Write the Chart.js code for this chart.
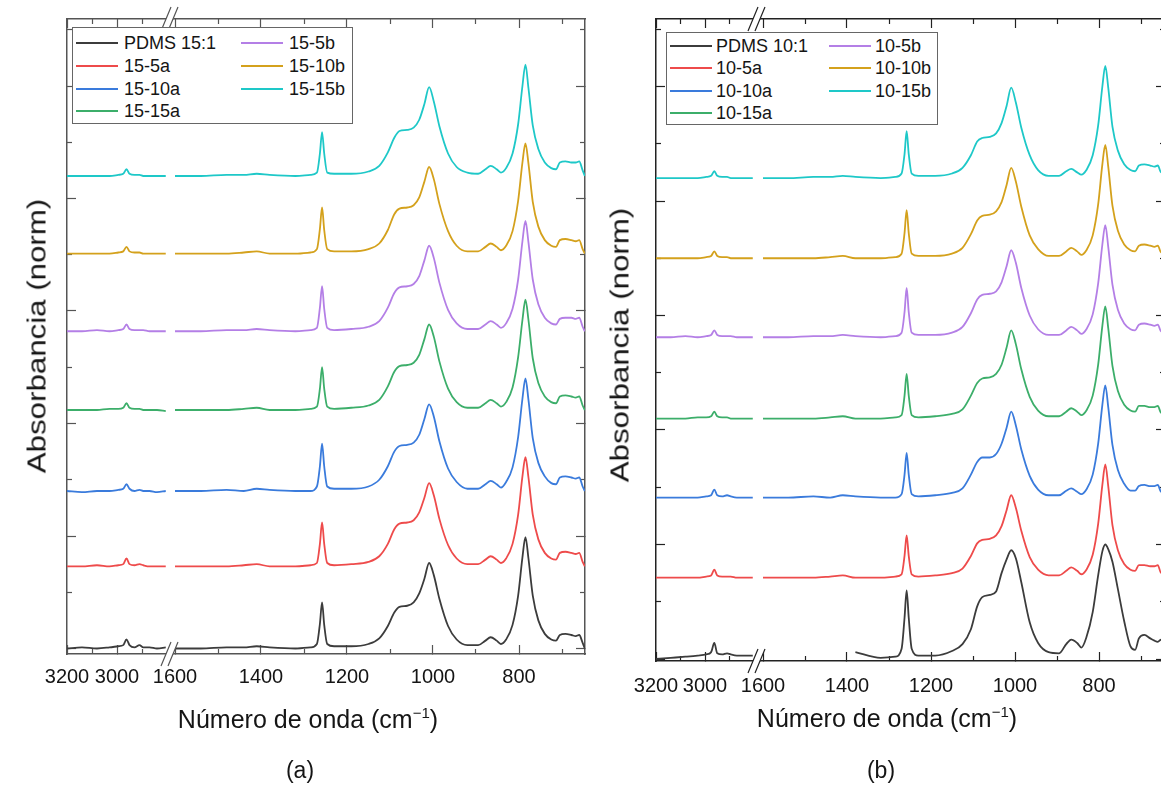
<!DOCTYPE html>
<html>
<head>
<meta charset="utf-8">
<script src="https://cdn.jsdelivr.net/npm/chart.js@4.4.0/dist/chart.umd.min.js"></script>
<style>
  html, body { margin: 0; padding: 0; background: #fff; overflow: hidden; }
  body { width: 1161px; height: 791px; position: relative; font-family: "Liberation Sans", Arial, sans-serif; color: #151515; }
  canvas { position: absolute; top: 0; }
  #chartA { left: 0; }
  #chartB { left: 592px; }
  .legend { position: absolute; box-sizing: border-box; border: 1px solid #666; background: #fff; font-size: 18px; }
  .legend .item { position: absolute; height: 20px; line-height: 20px; white-space: nowrap; }
  .legend .swatch { position: absolute; left: 0; top: 9px; width: 42px; height: 2px; }
  .legend .label { position: absolute; top: 0; }
  .ytitle, .xtitle, .caption { position: absolute; white-space: nowrap; line-height: 1; transform: translate(-50%, -50%); }
  .ytitle { font-size: 25px; transform: translate(-50%, -50%) rotate(-90deg) scaleX(1.25); }
  .xtitle { font-size: 25px; }
  .xtitle sup { font-size: 15px; vertical-align: 0; position: relative; top: -10px; }
  .caption { font-size: 23px; }
</style>
</head>
<body>
<canvas id="chartA" width="592" height="791"></canvas>
<canvas id="chartB" width="593" height="791"></canvas>

<div class="ytitle" style="left:37px;top:336px">Absorbancia (norm)</div>
<div class="ytitle" style="left:620px;top:345px">Absorbancia (norm)</div>
<div class="xtitle" style="left:308px;top:719px">Número de onda (cm<sup>−1</sup>)</div>
<div class="xtitle" style="left:887px;top:718px">Número de onda (cm<sup>−1</sup>)</div>
<div class="caption" style="left:300px;top:770px">(a)</div>
<div class="caption" style="left:881px;top:770px">(b)</div>

<script>
"use strict";

// wavenumbers (cm-1) of the two axis segments
const HIGH_WN = [3200, 3140, 3080, 3030, 2995, 2975, 2962, 2950, 2930, 2910, 2895, 2870, 2840, 2805];
const LOW_WN = [1600, 1540, 1480, 1440, 1410, 1380, 1320, 1285, 1270, 1263,
                1258, 1253, 1246, 1230, 1190, 1150, 1125, 1105, 1090, 1078,
                1060, 1045, 1032, 1020, 1009, 998, 985, 965, 945, 920,
                895, 878, 866, 852, 842, 830, 815, 802, 792, 785,
                778, 768, 755, 740, 725, 714, 705, 692, 678, 668,
                660, 652, 647];

const MAJOR_WN = [3200, 3000, 1600, 1400, 1200, 1000, 800];
const MINOR_WN = [3100, 2900, 1500, 1300, 1100, 900, 700];
const Y_MAJOR = [0, 1, 2, 3, 4, 5];
const Y_MINOR = [0.5, 1.5, 2.5, 3.5, 4.5, 5.5];

const COLORS = ["#3c3c3c", "#ee4b4b", "#3a7bdc", "#3cae6a", "#b47fe6", "#d4a11c", "#1ec8c8"];
const LABELS_A = ["PDMS 15:1", "15-5a", "15-10a", "15-15a", "15-5b", "15-10b", "15-15b"];
const LABELS_B = ["PDMS 10:1", "10-5a", "10-10a", "10-15a", "10-5b", "10-10b", "10-15b"];

// vertical offsets of the stacked spectra
const OFFSETS_A = [0, 0.73, 1.40, 2.12, 2.82, 3.51, 4.20];
const OFFSETS_B = [0.01, 0.71, 1.41, 2.10, 2.81, 3.50, 4.20];

// (a) normalized absorbance
const PDMS15_HI = [0.00, 0.01, 0.00, 0.01, 0.02, 0.03, 0.08, 0.03, 0.01, 0.03, 0.01, 0.01, 0.00, 0.01];
const A15_5A_HI = [0.00, 0.00, 0.01, 0.00, 0.01, 0.02, 0.07, 0.02, 0.01, 0.02, 0.01, 0.00, 0.00, 0.00];
const A15_10A_HI = [0.00, -0.01, 0.00, 0.00, 0.01, 0.02, 0.06, 0.02, 0.00, 0.01, 0.00, 0.00, -0.01, 0.00];
const A15_15A_HI = [0.00, 0.00, 0.00, 0.01, 0.01, 0.02, 0.06, 0.02, 0.01, 0.01, 0.00, 0.00, 0.00, -0.01];
const A15_5B_HI = [0.00, 0.00, 0.01, 0.00, 0.01, 0.02, 0.06, 0.02, 0.01, 0.01, 0.01, 0.00, 0.00, 0.00];
const A15_10B_HI = [0.00, 0.00, 0.00, 0.00, 0.01, 0.02, 0.06, 0.02, 0.01, 0.01, 0.00, 0.00, 0.00, 0.00];
const A15_15B_HI = [0.00, 0.00, 0.00, 0.00, 0.01, 0.02, 0.06, 0.02, 0.01, 0.01, 0.00, 0.00, 0.00, 0.00];

const PDMS15_LO = [0.00, 0.00, 0.01, 0.01, 0.02, 0.01, 0.00, 0.01, 0.04, 0.22,
                   0.41, 0.21, 0.04, 0.02, 0.02, 0.04, 0.09, 0.20, 0.32, 0.37,
                   0.38, 0.41, 0.49, 0.62, 0.76, 0.65, 0.44, 0.20, 0.08, 0.03,
                   0.03, 0.07, 0.10, 0.07, 0.04, 0.08, 0.21, 0.47, 0.81, 0.99,
                   0.80, 0.47, 0.25, 0.13, 0.08, 0.07, 0.12, 0.13, 0.12, 0.11,
                   0.12, 0.05, 0.00];
const A15_5A_LO = [0.00, 0.00, 0.00, 0.01, 0.02, 0.00, 0.00, 0.01, 0.03, 0.20,
                   0.39, 0.20, 0.03, 0.01, 0.02, 0.04, 0.09, 0.20, 0.33, 0.38,
                   0.39, 0.41, 0.48, 0.61, 0.74, 0.63, 0.42, 0.19, 0.07, 0.02,
                   0.02, 0.06, 0.09, 0.06, 0.03, 0.07, 0.20, 0.46, 0.80, 0.97,
                   0.79, 0.46, 0.24, 0.12, 0.07, 0.06, 0.12, 0.13, 0.12, 0.11,
                   0.12, 0.04, 0.00];
const A15_10A_LO = [0.00, 0.00, 0.01, 0.00, 0.02, 0.01, 0.00, 0.00, 0.04, 0.22,
                    0.42, 0.22, 0.04, 0.02, 0.02, 0.04, 0.10, 0.22, 0.35, 0.40,
                    0.41, 0.43, 0.50, 0.64, 0.77, 0.66, 0.44, 0.20, 0.08, 0.02,
                    0.02, 0.06, 0.09, 0.06, 0.03, 0.08, 0.21, 0.48, 0.82, 1.00,
                    0.81, 0.47, 0.25, 0.13, 0.07, 0.06, 0.12, 0.13, 0.12, 0.11,
                    0.12, 0.04, 0.00];
const A15_15A_LO = [0.00, 0.00, 0.00, 0.01, 0.02, 0.00, 0.00, 0.01, 0.03, 0.19,
                    0.38, 0.19, 0.03, 0.01, 0.02, 0.04, 0.09, 0.21, 0.34, 0.39,
                    0.40, 0.42, 0.49, 0.63, 0.76, 0.65, 0.43, 0.19, 0.07, 0.02,
                    0.02, 0.06, 0.09, 0.06, 0.03, 0.07, 0.20, 0.47, 0.80, 0.98,
                    0.80, 0.46, 0.24, 0.12, 0.07, 0.06, 0.12, 0.13, 0.12, 0.11,
                    0.12, 0.04, 0.00];
const A15_5B_LO = [0.00, 0.00, 0.01, 0.01, 0.02, 0.01, 0.00, 0.01, 0.03, 0.21,
                   0.40, 0.20, 0.03, 0.01, 0.02, 0.04, 0.09, 0.21, 0.34, 0.39,
                   0.40, 0.42, 0.49, 0.63, 0.76, 0.65, 0.43, 0.19, 0.07, 0.02,
                   0.02, 0.06, 0.09, 0.06, 0.03, 0.07, 0.20, 0.46, 0.80, 0.98,
                   0.79, 0.46, 0.24, 0.12, 0.07, 0.06, 0.11, 0.12, 0.12, 0.11,
                   0.12, 0.04, 0.00];
const A15_10B_LO = [0.00, 0.00, 0.00, 0.01, 0.02, 0.00, 0.00, 0.01, 0.04, 0.22,
                    0.41, 0.21, 0.04, 0.02, 0.02, 0.04, 0.09, 0.21, 0.35, 0.40,
                    0.41, 0.43, 0.50, 0.64, 0.77, 0.66, 0.44, 0.20, 0.07, 0.02,
                    0.02, 0.06, 0.09, 0.06, 0.03, 0.07, 0.20, 0.47, 0.81, 0.98,
                    0.80, 0.46, 0.24, 0.12, 0.07, 0.06, 0.12, 0.13, 0.12, 0.11,
                    0.12, 0.04, 0.00];
const A15_15B_LO = [0.00, 0.00, 0.01, 0.01, 0.02, 0.01, 0.00, 0.01, 0.03, 0.20,
                    0.39, 0.20, 0.03, 0.02, 0.02, 0.04, 0.09, 0.21, 0.34, 0.40,
                    0.41, 0.43, 0.50, 0.64, 0.79, 0.66, 0.44, 0.20, 0.08, 0.03,
                    0.02, 0.06, 0.09, 0.06, 0.03, 0.07, 0.20, 0.46, 0.80, 0.99,
                    0.78, 0.45, 0.24, 0.12, 0.07, 0.06, 0.12, 0.13, 0.12, 0.12,
                    0.13, 0.05, 0.00];

// (b) normalized absorbance
const PDMS10_HI = [-0.01, 0.00, 0.01, 0.02, 0.03, 0.05, 0.13, 0.04, 0.03, 0.04, 0.03, 0.02, 0.02, 0.02];
const B10_5A_HI = [0.00, 0.00, 0.00, 0.00, 0.01, 0.02, 0.07, 0.02, 0.01, 0.01, 0.01, 0.00, 0.00, 0.00];
const B10_10A_HI = [0.00, 0.00, 0.00, 0.00, 0.01, 0.02, 0.07, 0.02, 0.01, 0.02, 0.01, 0.00, 0.00, 0.00];
const B10_15A_HI = [0.00, 0.00, 0.00, 0.01, 0.01, 0.02, 0.06, 0.02, 0.01, 0.01, 0.00, 0.00, 0.00, 0.00];
const B10_5B_HI = [0.00, 0.00, 0.01, 0.00, 0.01, 0.02, 0.06, 0.02, 0.01, 0.01, 0.01, 0.00, 0.00, 0.00];
const B10_10B_HI = [0.00, 0.00, 0.00, 0.00, 0.01, 0.02, 0.06, 0.02, 0.01, 0.01, 0.00, 0.00, 0.00, 0.00];
const B10_15B_HI = [0.00, 0.00, 0.00, 0.00, 0.01, 0.02, 0.06, 0.02, 0.01, 0.01, 0.00, 0.00, 0.00, 0.00];

const PDMS10_LO = [null, null, null, null, null, 0.05, 0.00, 0.01, 0.08, 0.35,
                   0.59, 0.35, 0.08, 0.02, 0.02, 0.06, 0.12, 0.25, 0.45, 0.53,
                   0.55, 0.58, 0.74, 0.86, 0.94, 0.87, 0.66, 0.31, 0.13, 0.05,
                   0.04, 0.12, 0.16, 0.13, 0.09, 0.18, 0.40, 0.72, 0.93, 0.99,
                   0.95, 0.84, 0.60, 0.32, 0.10, 0.07, 0.17, 0.20, 0.17, 0.15,
                   0.14, 0.16, 0.12];
const B10_5A_LO = [0.00, 0.00, 0.00, 0.01, 0.02, 0.00, 0.00, 0.01, 0.03, 0.19,
                   0.37, 0.19, 0.03, 0.01, 0.02, 0.04, 0.08, 0.19, 0.30, 0.33,
                   0.34, 0.37, 0.45, 0.59, 0.72, 0.61, 0.41, 0.18, 0.07, 0.02,
                   0.02, 0.06, 0.09, 0.06, 0.03, 0.07, 0.20, 0.47, 0.81, 0.99,
                   0.80, 0.46, 0.24, 0.12, 0.07, 0.06, 0.11, 0.11, 0.10, 0.10,
                   0.11, 0.04, 0.09];
const B10_10A_LO = [0.00, 0.00, 0.01, 0.00, 0.02, 0.01, 0.00, 0.00, 0.03, 0.20,
                    0.39, 0.20, 0.03, 0.01, 0.02, 0.04, 0.08, 0.20, 0.31, 0.35,
                    0.35, 0.38, 0.47, 0.61, 0.75, 0.63, 0.42, 0.19, 0.07, 0.02,
                    0.02, 0.06, 0.08, 0.05, 0.03, 0.07, 0.20, 0.47, 0.81, 0.98,
                    0.79, 0.46, 0.24, 0.12, 0.06, 0.06, 0.10, 0.11, 0.10, 0.10,
                    0.11, 0.05, 0.09];
const B10_15A_LO = [0.00, 0.00, 0.00, 0.01, 0.02, 0.00, 0.00, 0.01, 0.03, 0.20,
                    0.39, 0.20, 0.03, 0.01, 0.02, 0.04, 0.08, 0.20, 0.31, 0.35,
                    0.36, 0.39, 0.47, 0.62, 0.77, 0.65, 0.43, 0.19, 0.07, 0.02,
                    0.02, 0.06, 0.09, 0.06, 0.03, 0.07, 0.20, 0.47, 0.81, 0.98,
                    0.79, 0.46, 0.24, 0.12, 0.07, 0.06, 0.11, 0.11, 0.10, 0.10,
                    0.11, 0.05, 0.09];
const B10_5B_LO = [0.00, 0.00, 0.01, 0.01, 0.02, 0.01, 0.00, 0.01, 0.04, 0.22,
                   0.43, 0.22, 0.04, 0.02, 0.02, 0.04, 0.09, 0.21, 0.33, 0.37,
                   0.38, 0.40, 0.48, 0.62, 0.76, 0.65, 0.43, 0.19, 0.07, 0.02,
                   0.02, 0.06, 0.09, 0.06, 0.03, 0.07, 0.20, 0.47, 0.81, 0.98,
                   0.79, 0.46, 0.24, 0.12, 0.07, 0.06, 0.11, 0.12, 0.11, 0.10,
                   0.11, 0.05, 0.09];
const B10_10B_LO = [0.00, 0.00, 0.00, 0.01, 0.02, 0.00, 0.00, 0.01, 0.04, 0.22,
                    0.42, 0.22, 0.04, 0.02, 0.02, 0.04, 0.09, 0.21, 0.33, 0.37,
                    0.38, 0.41, 0.49, 0.64, 0.79, 0.67, 0.45, 0.20, 0.08, 0.02,
                    0.02, 0.06, 0.09, 0.06, 0.03, 0.07, 0.20, 0.47, 0.82, 0.99,
                    0.80, 0.46, 0.24, 0.12, 0.07, 0.06, 0.11, 0.12, 0.11, 0.10,
                    0.11, 0.05, 0.09];
const B10_15B_LO = [0.00, 0.00, 0.01, 0.01, 0.02, 0.01, 0.00, 0.01, 0.04, 0.21,
                    0.41, 0.21, 0.04, 0.02, 0.02, 0.04, 0.09, 0.20, 0.32, 0.35,
                    0.36, 0.39, 0.48, 0.63, 0.79, 0.66, 0.44, 0.20, 0.07, 0.02,
                    0.02, 0.06, 0.08, 0.05, 0.03, 0.07, 0.20, 0.46, 0.80, 0.98,
                    0.79, 0.45, 0.24, 0.12, 0.07, 0.06, 0.11, 0.12, 0.11, 0.10,
                    0.11, 0.05, 0.09];

const HI_A = [PDMS15_HI, A15_5A_HI, A15_10A_HI, A15_15A_HI, A15_5B_HI, A15_10B_HI, A15_15B_HI];
const LO_A = [PDMS15_LO, A15_5A_LO, A15_10A_LO, A15_15A_LO, A15_5B_LO, A15_10B_LO, A15_15B_LO];
const HI_B = [PDMS10_HI, B10_5A_HI, B10_10A_HI, B10_15A_HI, B10_5B_HI, B10_10B_HI, B10_15B_HI];
const LO_B = [PDMS10_LO, B10_5A_LO, B10_10A_LO, B10_15A_LO, B10_5B_LO, B10_10B_LO, B10_15B_LO];

// pixel geometry of each panel (canvas coordinates)
const PANEL_A = {
    id: "chartA", width: 592, height: 791, left: 67, right: 585, top: 19, bottom: 654,
    pxPerCm: 0.43, highPxPerCm: 0.25, lowStartPx: 175, breakPx: 170,
    yZero: 648.5, yUnit: 112.5, labelPad: 20, axisColor: "#555"
};
const PANEL_B = {
    id: "chartB", width: 593, height: 791, left: 64, right: 573, top: 19, bottom: 661,
    pxPerCm: 0.42, highPxPerCm: 0.245, lowStartPx: 171, breakPx: 165,
    yZero: 659, yUnit: 114.5, labelPad: 22, axisColor: "#222"
};

const LEGEND_A = { left: 72, top: 27, width: 281, height: 97, cols: [3, 168], rows: [15, 38, 61, 83], textGap: 48 };
const LEGEND_B = { left: 666, top: 32, width: 272, height: 93, cols: [3, 162], rows: [13, 35, 58, 80], textGap: 46 };

const FONT = "'Liberation Sans', Arial, sans-serif";

const breakMarks = {
    id: "breakMarks",
    afterDraw (chart, args, opts) {
        const {ctx, chartArea} = chart;
        const x = chart.scales.x.getPixelForValue(opts.pos);

        [chartArea.top, chartArea.bottom].forEach(y => {
            ctx.save();
            ctx.fillStyle = "#fff";
            ctx.beginPath();
            ctx.moveTo(x - 9, y + 12);
            ctx.lineTo(x + 1, y - 12);
            ctx.lineTo(x + 8, y - 12);
            ctx.lineTo(x - 2, y + 12);
            ctx.closePath();
            ctx.fill();
            ctx.strokeStyle = opts.color;
            ctx.lineWidth = 1.2;
            ctx.beginPath();
            ctx.moveTo(x - 9, y + 12);
            ctx.lineTo(x + 1, y - 12);
            ctx.moveTo(x - 2, y + 12);
            ctx.lineTo(x + 8, y - 12);
            ctx.stroke();
            ctx.restore();
        });
    }
};

function markAxis (position, values, len, border, color, extra) {
    const horizontal = position === "top" || position === "bottom";

    return Object.assign({
        type: "linear",
        position,
        afterBuildTicks: s => { s.ticks = values.map(v => ({value: v})); },
        afterFit: s => { if (horizontal) s.height = 0; else s.width = 0; },
        ticks: {display: false},
        grid: {drawOnChartArea: false, tickLength: -len, tickColor: color, tickWidth: 1.2},
        border: {display: border, color, width: 1.5}
    }, extra);
}

function buildChart (p, labels, offsets, his, los) {
    const posMax = (p.right - p.left) / p.pxPerCm;
    const lowStart = (p.lowStartPx - p.left) / p.pxPerCm;
    const breakPos = (p.breakPx - p.left) / p.pxPerCm;
    const pos = w => w > 2000 ? (3200 - w) * p.highPxPerCm / p.pxPerCm : lowStart + (1600 - w);
    const yMin = (p.yZero - p.bottom) / p.yUnit;
    const yMax = (p.yZero - p.top) / p.yUnit;
    const xRange = {min: 0, max: posMax};
    const yRange = {min: yMin, max: yMax};

    const datasets = labels.map((label, i) => ({
        label,
        borderColor: COLORS[i],
        borderWidth: 1.8,
        pointRadius: 0,
        cubicInterpolationMode: "monotone",
        spanGaps: false,
        data: [
            ...HIGH_WN.map((w, j) => ({x: pos(w), y: offsets[i] + his[i][j]})),
            {x: breakPos, y: null},
            ...LOW_WN.map((w, j) => ({x: pos(w), y: los[i][j] === null ? null : offsets[i] + los[i][j]}))
        ]
    }));

    return new Chart(document.getElementById(p.id), {
        type: "line",
        data: {datasets},
        options: {
            responsive: false,
            animation: false,
            devicePixelRatio: 1,
            layout: {padding: {top: p.top, right: p.width - p.right, left: 0, bottom: 0}},
            plugins: {
                legend: {display: false},
                tooltip: {enabled: false},
                breakMarks: {pos: breakPos, color: p.axisColor}
            },
            scales: {
                x: Object.assign({
                    type: "linear",
                    position: "bottom",
                    weight: 0,
                    afterBuildTicks: s => { s.ticks = MAJOR_WN.map(w => ({value: pos(w)})); },
                    afterFit: s => { s.height = p.height - p.bottom; },
                    ticks: {
                        autoSkip: false, maxRotation: 0, padding: p.labelPad, color: "#151515",
                        font: {family: FONT, size: 20},
                        callback: (v, i) => String(MAJOR_WN[i])
                    },
                    grid: {drawOnChartArea: false, tickLength: -9, tickColor: p.axisColor, tickWidth: 1.2},
                    border: {display: true, color: p.axisColor, width: 1.5}
                }, xRange),
                xMinor: markAxis("bottom", MINOR_WN.map(pos), 5, false, p.axisColor, Object.assign({weight: -1}, xRange)),
                xTop: markAxis("top", MAJOR_WN.map(pos), 9, true, p.axisColor, xRange),
                xTopMinor: markAxis("top", MINOR_WN.map(pos), 5, false, p.axisColor, xRange),
                y: Object.assign(markAxis("left", Y_MAJOR, 9, true, p.axisColor, yRange), {
                    weight: 0,
                    afterFit: s => { s.width = p.left; }
                }),
                yMinor: markAxis("left", Y_MINOR, 5, false, p.axisColor, Object.assign({weight: -1}, yRange)),
                yRight: markAxis("right", Y_MAJOR, 9, true, p.axisColor, yRange),
                yRightMinor: markAxis("right", Y_MINOR, 5, false, p.axisColor, yRange)
            }
        },
        plugins: [breakMarks]
    });
}

function buildLegend (box, labels) {
    const el = document.createElement("div");

    el.className = "legend";
    Object.assign(el.style, {
        left: box.left + "px", top: box.top + "px",
        width: box.width + "px", height: box.height + "px"
    });

    labels.forEach((label, i) => {
        const col = i < 4 ? 0 : 1;
        const row = i < 4 ? i : i - 4;
        const item = el.appendChild(document.createElement("div"));
        const swatch = item.appendChild(document.createElement("span"));
        const text = item.appendChild(document.createElement("span"));

        item.className = "item";
        item.style.left = box.cols[col] + "px";
        item.style.top = (box.rows[row] - 10) + "px";
        swatch.className = "swatch";
        swatch.style.background = COLORS[i];
        text.className = "label";
        text.style.left = box.textGap + "px";
        text.textContent = label;
    });

    document.body.appendChild(el);
}

buildChart(PANEL_A, LABELS_A, OFFSETS_A, HI_A, LO_A);
buildChart(PANEL_B, LABELS_B, OFFSETS_B, HI_B, LO_B);
buildLegend(LEGEND_A, LABELS_A);
buildLegend(LEGEND_B, LABELS_B);
</script>
</body>
</html>
